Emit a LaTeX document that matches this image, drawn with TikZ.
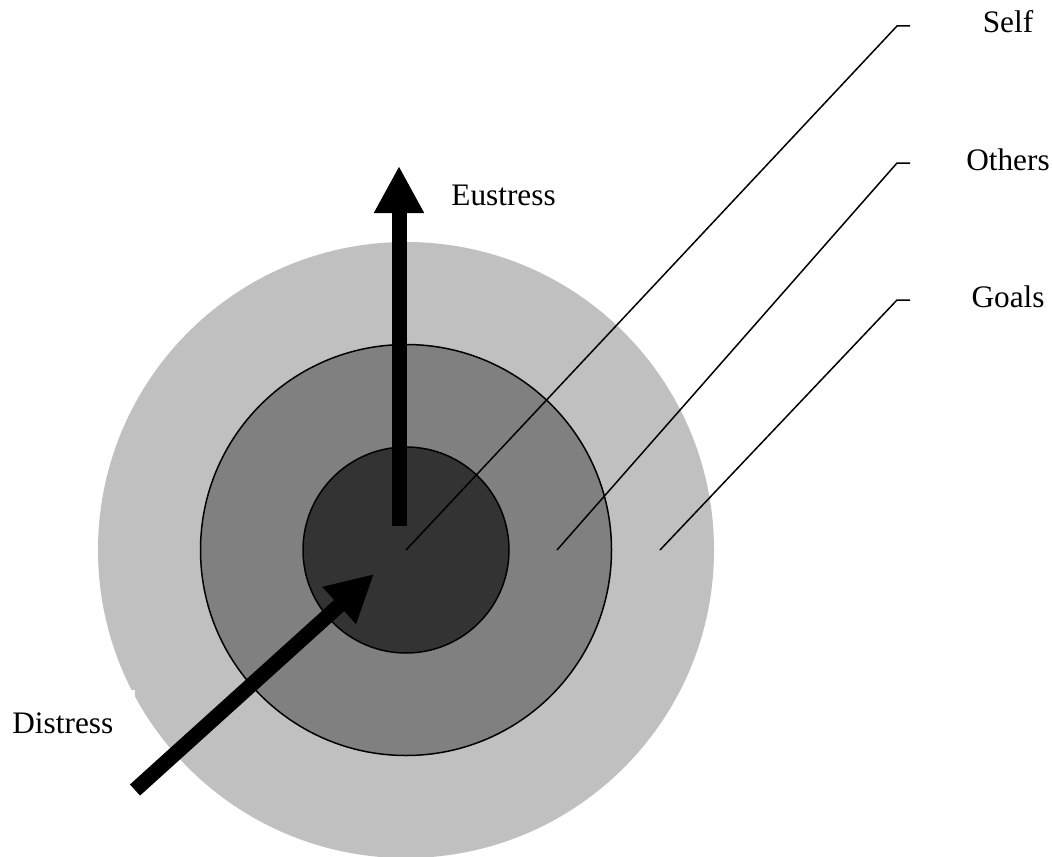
\documentclass[tikz,border=0pt]{standalone}
\usepackage{fontspec}
\setmainfont{Liberation Serif}
\usetikzlibrary{arrows.meta}
\definecolor{ringouter}{HTML}{C0C0C0}
\definecolor{ringmid}{HTML}{808080}
\definecolor{ringcore}{HTML}{333333}

\begin{document}
\begin{tikzpicture}[x=0.5pt,y=-0.5pt,
	ring/.style={circle, inner sep=0pt, draw=black, line width=0.75pt},
	lbl/.style={font=\fontsize{15.65}{18}\selectfont, inner sep=0pt},
	fatarrow/.style={line width=7.5pt, -{Triangle[length=23.5pt,width=23.5pt]}}]
	\useasboundingbox (0,0) rectangle (1053,856);
	% the three rings
	\node[circle, inner sep=0pt, fill=ringouter, minimum size=308pt] (goals) at (406,550) {};
	\node[ring, fill=ringmid, minimum size=205.5pt] (others) at (goals.center) {};
	\node[ring, fill=ringcore, minimum size=103pt] (self) at (goals.center) {};
	% pointers to the labels
	\foreach \name/\sx/\ty in {Self/406/26, Others/557/163, Goals/660/300}
	{
		\coordinate (\name-in) at (\sx,550);
		\coordinate (\name-bend) at (897,\ty);
		\coordinate (\name-end) at (910,\ty);
		\draw[line width=0.75pt] (\name-in) -- (\name-bend) -- (\name-end);
		\node[lbl, anchor=base] (\name) at (1008,\ty+7) {\name};
	}
	\node[lbl, anchor=base west] (eustress) at (451,205) {Eustress};
	\node[lbl, anchor=base west, fill=white, inner sep=11pt] (distress) at (-10,733) {Distress};
	% the two arrows
	\coordinate (eu-tail) at (399,526);
	\coordinate (eu-tip) at (399,166);
	\coordinate (dis-tail) at (135,790);
	\coordinate (dis-tip) at (374,574);
	\draw[fatarrow] (eu-tail) -- (eu-tip);
	\draw[fatarrow] (dis-tail) -- (dis-tip);
\end{tikzpicture}
\end{document}
